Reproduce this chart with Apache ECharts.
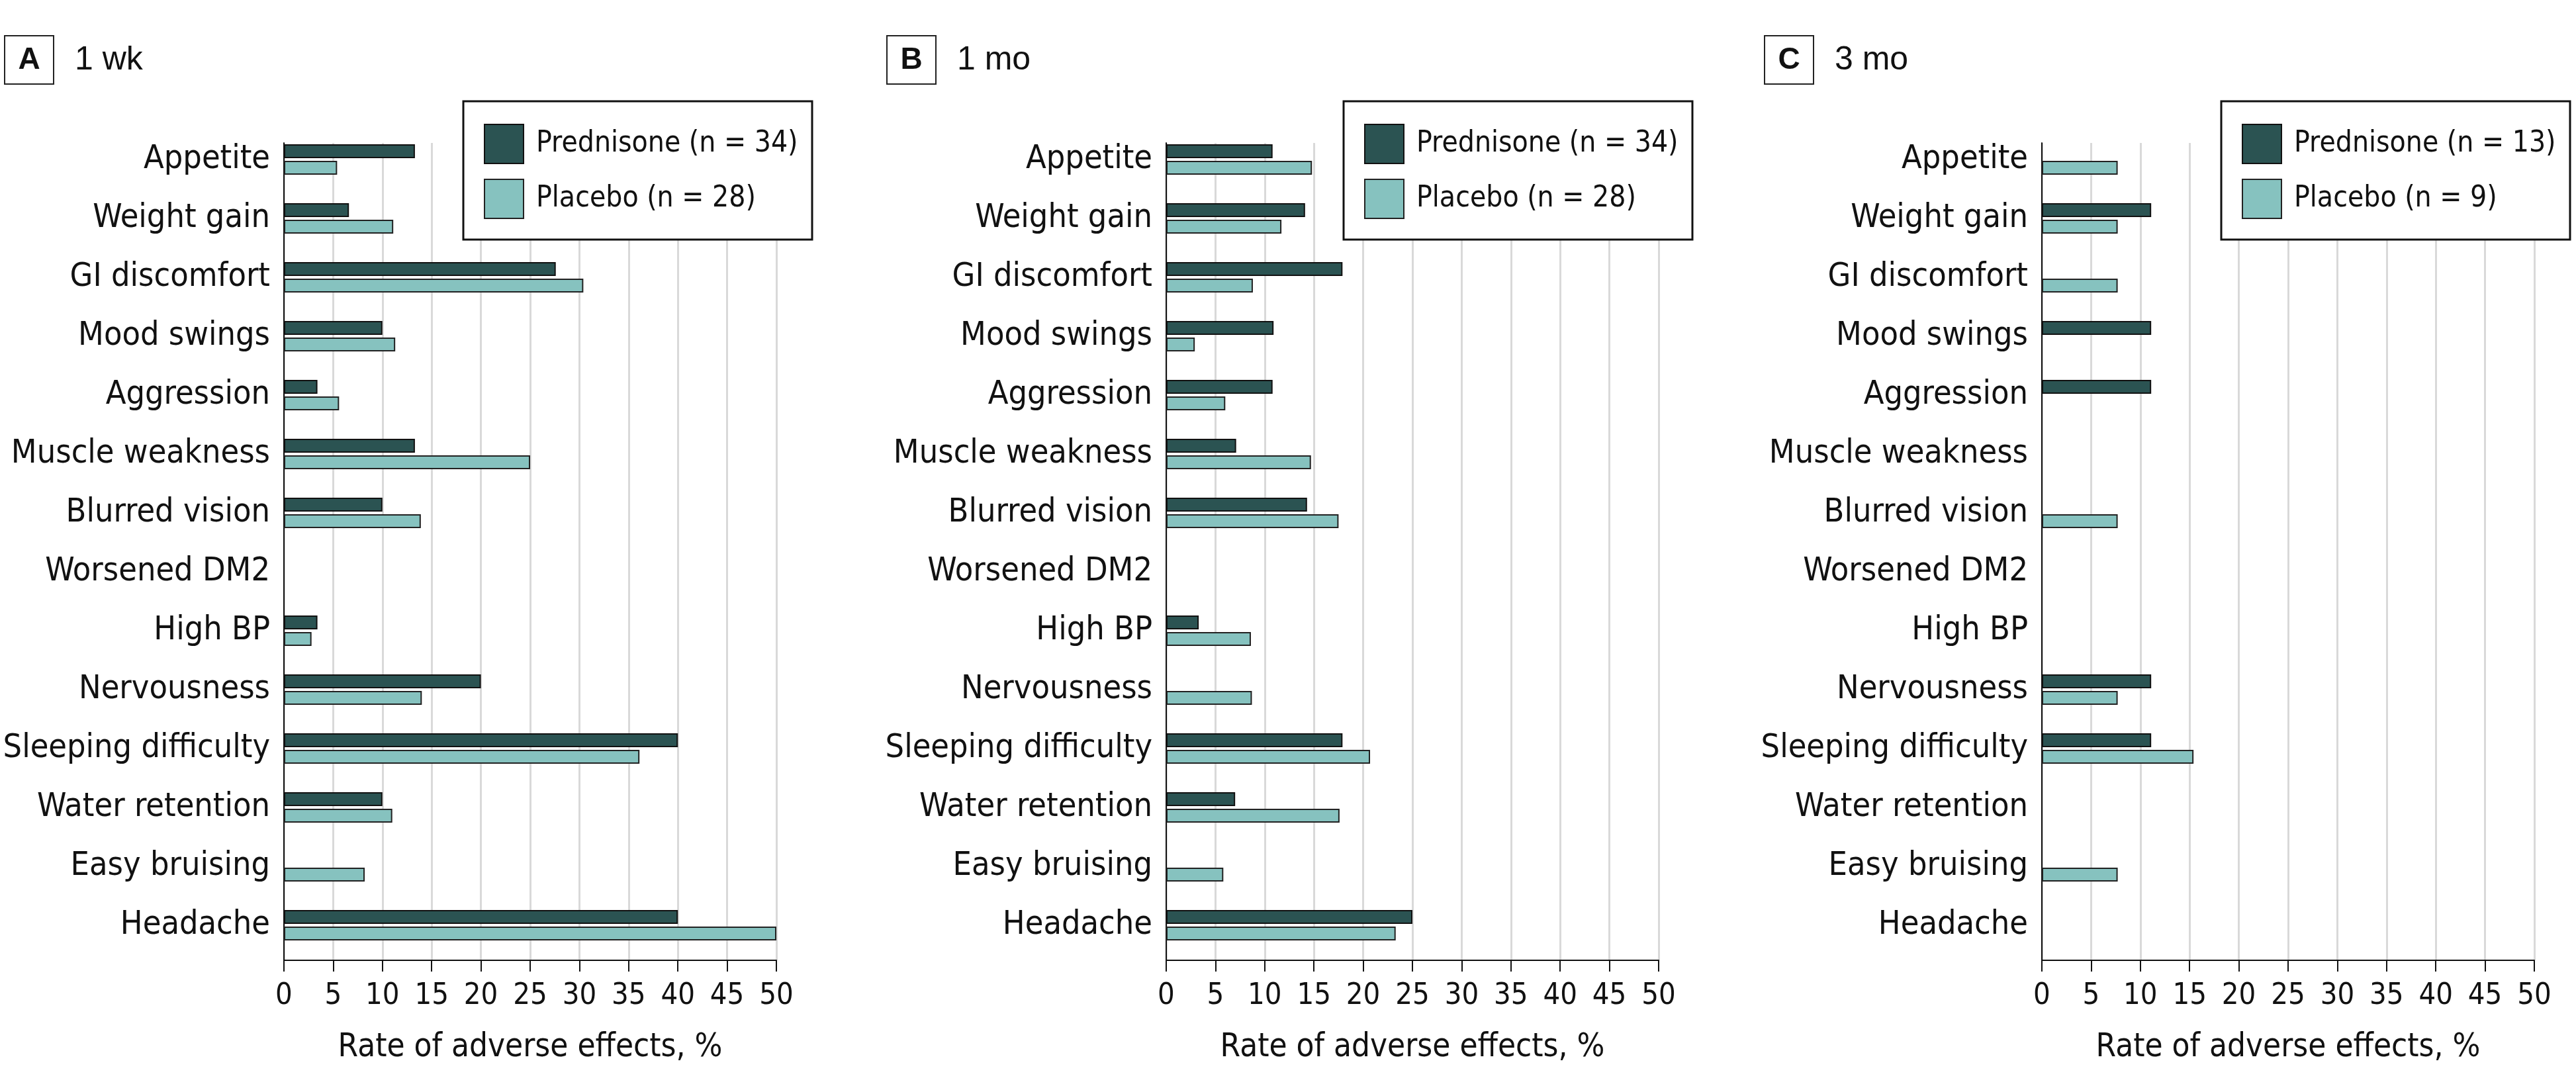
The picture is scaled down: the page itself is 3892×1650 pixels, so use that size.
<!DOCTYPE html>
<html>
<head>
<meta charset="utf-8">
<script src="https://cdn.jsdelivr.net/npm/echarts@6/dist/echarts.min.js"></script>
<style>
html,body{margin:0;padding:0;background:#fff;}
#chart{width:3892px;height:1650px;}
</style>
</head>
<body>
<div id="chart"></div>
<script>
// ---------------- data ----------------
const categories = ['Appetite','Weight gain','GI discomfort','Mood swings','Aggression','Muscle weakness','Blurred vision','Worsened DM2','High BP','Nervousness','Sleeping difficulty','Water retention','Easy bruising','Headache'];

const panelLetters = ['A','B','C'];
const panelTitles = ['1 wk','1 mo','3 mo'];
const prednisoneNames = ['Prednisone (n = 34)','Prednisone (n = 34)','Prednisone (n = 13)'];
const placeboNames = ['Placebo (n = 28)','Placebo (n = 28)','Placebo (n = 9)'];

const wk1Prednisone = [13.3, 6.6, 27.6, 10.0, 3.4, 13.3, 10.0, null, 3.4, 20.0, 40.0, 10.0, null, 40.0];
const wk1Placebo    = [5.4, 11.1, 30.4, 11.3, 5.6, 25.0, 13.9, null, 2.8, 14.0, 36.1, 11.0, 8.2, 50.0];

const mo1Prednisone = [10.8, 14.1, 17.9, 10.9, 10.8, 7.1, 14.3, null, 3.3, null, 17.9, 7.0, null, 25.0];
const mo1Placebo    = [14.8, 11.7, 8.8, 2.9, 6.0, 14.7, 17.5, null, 8.6, 8.7, 20.7, 17.6, 5.8, 23.3];

const mo3Prednisone = [null, 11.1, null, 11.1, 11.1, null, null, null, null, 11.1, 11.1, null, null, null];
const mo3Placebo    = [7.7, 7.7, 7.7, null, null, null, 7.7, null, null, 7.7, 15.4, null, 7.7, null];

const xAxisMin = 0, xAxisMax = 50, xAxisInterval = 5;
const xAxisTitle = 'Rate of adverse effects, %';

const prednisoneSets = [wk1Prednisone, mo1Prednisone, mo3Prednisone];
const placeboSets = [wk1Placebo, mo1Placebo, mo3Placebo];

// ---------------- layout / style ----------------
const axisLeft = [429, 1762, 3085];
const plotWidth = 744;
const legendLeft = [700, 2030, 3356];
const boxLeft = [7, 1340, 2666];
const darkColor = '#2b5352';
const lightColor = '#86c2bf';
const inkColor = '#111111';

function hasFont(name){
  const c = document.createElement('canvas').getContext('2d');
  const s = 'abcdefghijklmnopqrstuvwxyz ABCDEFGHIJ 0123456789';
  c.font = '40px monospace';
  const w1 = c.measureText(s).width;
  c.font = '40px "' + name + '", monospace';
  const w2 = c.measureText(s).width;
  return Math.abs(w1 - w2) > 0.5;
}
let fam, sz;
if (hasFont('Liberation Sans Narrow')) {
  fam = '"Liberation Sans Narrow"';
  sz = {cat: 60, tick: 52, name: 60, legend: 53};
} else if (hasFont('DejaVu Sans Condensed')) {
  fam = '"DejaVu Sans Condensed"';
  sz = {cat: 50, tick: 45, name: 49, legend: 44};
} else {
  fam = '"Liberation Sans", Arial, sans-serif';
  sz = {cat: 50, tick: 46, name: 49, legend: 46};
}
const plainFam = '"Liberation Sans", Arial, sans-serif';

const grids = [], xAxes = [], yAxes = [], series = [], legends = [], graphics = [];

for (let i = 0; i < 3; i++) {
  const gBar = 2 * i, gFrame = 2 * i + 1;
  grids.push({left: axisLeft[i], width: plotWidth, top: 196.5, height: 1246, containLabel: false});
  grids.push({left: axisLeft[i], width: plotWidth, top: 216, height: 1235, containLabel: false});

  xAxes.push({gridIndex: gBar, type: 'value', min: xAxisMin, max: xAxisMax, interval: xAxisInterval, show: false});
  xAxes.push({
    gridIndex: gFrame, type: 'value', min: xAxisMin, max: xAxisMax, interval: xAxisInterval,
    axisLine: {show: true, lineStyle: {color: inkColor, width: 2}},
    axisTick: {show: true, length: 17, lineStyle: {color: inkColor, width: 2}},
    axisLabel: {fontSize: sz.tick, fontFamily: fam, color: inkColor, margin: 32},
    splitLine: {show: true, lineStyle: {color: '#d9d9d9', width: 3}},
    name: xAxisTitle, nameLocation: 'middle', nameGap: 108,
    nameTextStyle: {fontSize: sz.name, fontFamily: fam, color: inkColor}
  });

  yAxes.push({
    gridIndex: gBar, type: 'category', inverse: true, data: categories,
    axisLine: {show: false}, axisTick: {show: false}, splitLine: {show: false},
    axisLabel: {fontSize: sz.cat, fontFamily: fam, color: inkColor, margin: 21, padding: [14, 0, 0, 0]}
  });
  yAxes.push({
    gridIndex: gFrame, type: 'value', min: 0, max: 1,
    axisLine: {show: true, lineStyle: {color: inkColor, width: 2}},
    axisTick: {show: false}, axisLabel: {show: false}, splitLine: {show: false}
  });

  series.push({
    type: 'bar', name: prednisoneNames[i], xAxisIndex: gBar, yAxisIndex: gBar,
    data: prednisoneSets[i], barWidth: 21, barGap: '19%',
    itemStyle: {color: darkColor, borderColor: inkColor, borderWidth: 2},
    emphasis: {disabled: true}, z: 3
  });
  series.push({
    type: 'bar', name: placeboNames[i], xAxisIndex: gBar, yAxisIndex: gBar,
    data: placeboSets[i], barWidth: 21, barGap: '19%',
    itemStyle: {color: lightColor, borderColor: '#222', borderWidth: 2},
    emphasis: {disabled: true}, z: 3
  });

  legends.push({
    data: [prednisoneNames[i], placeboNames[i]],
    orient: 'vertical', left: legendLeft[i] + 31, top: 187,
    itemWidth: 59, itemHeight: 59, itemGap: 22, padding: 0,
    selectedMode: false, icon: 'rect', z: 20,
    textStyle: {fontSize: sz.legend, fontFamily: fam, color: inkColor, padding: [0, 0, 0, 14]}
  });

  graphics.push({
    type: 'rect', z: 10,
    shape: {x: legendLeft[i], y: 153, width: 527, height: 209},
    style: {fill: '#fff', stroke: inkColor, lineWidth: 3}
  });
  graphics.push({
    type: 'rect', z: 10,
    shape: {x: boxLeft[i], y: 54, width: 74, height: 73},
    style: {fill: '#fff', stroke: '#222', lineWidth: 2}
  });
  graphics.push({
    type: 'text', z: 11, x: boxLeft[i] + 37, y: 91,
    style: {text: panelLetters[i], fontSize: 46, fontWeight: 'bold', fontFamily: plainFam,
            fill: inkColor, align: 'center', verticalAlign: 'middle', textAlign: 'center', textVerticalAlign: 'middle'}
  });
  graphics.push({
    type: 'text', z: 11, x: boxLeft[i] + 106, y: 91,
    style: {text: panelTitles[i], fontSize: 50, fontFamily: plainFam,
            fill: inkColor, align: 'left', verticalAlign: 'middle', textAlign: 'left', textVerticalAlign: 'middle'}
  });
}

const chart = echarts.init(document.getElementById('chart'), null, {renderer: 'canvas', width: 3892, height: 1650});
chart.setOption({
  backgroundColor: '#ffffff',
  animation: false,
  grid: grids,
  xAxis: xAxes,
  yAxis: yAxes,
  legend: legends,
  series: series,
  graphic: {elements: graphics}
});
</script>
</body>
</html>
